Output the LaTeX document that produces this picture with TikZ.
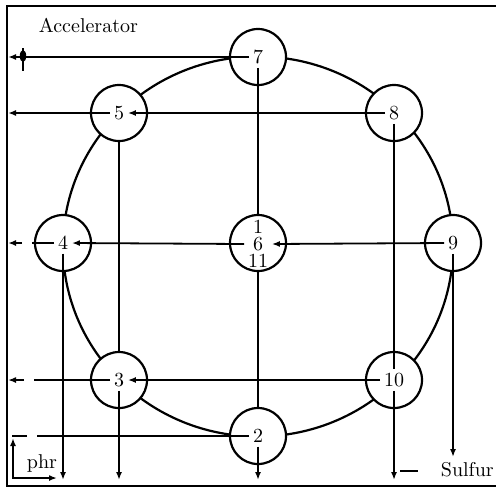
\documentclass[tikz,border=0pt]{standalone}
\usetikzlibrary{arrows.meta,positioning}

\begin{document}
\begin{tikzpicture}[x=0.5pt, y=-0.5pt, >={Latex[length=4pt,width=3pt]}, line width=0.9pt,
  station/.style={draw, circle, fill=white, minimum size=28pt, inner sep=0pt, line width=1.1pt},
  num/.style={inner sep=1.5pt, font=\normalsize},
  note/.style={inner sep=0pt, font=\normalsize}]
  \useasboundingbox (0,0) rectangle (496,488);
  % frame and ring
  \draw[line width=1.3pt] (496,6) -- (7,6) -- (7,486) -- (496,486);
  \draw[line width=1.1pt] (258,246.5) ellipse[x radius=97.5pt, y radius=95pt];
  % stations
  \foreach \n/\x/\y in {7/258/57, 5/119/113, 8/394/113, 4/63/243, 9/453/243,
                        3/119/380, 10/394/380, 2/258/436} {
    \node[station] (n\n) at (\x,\y) {};
    \node[num] (t\n) at (\x,\y) {\n};
  }
  \node[station] (n6) at (258,243) {};
  \node[num, align=center, font=\fontsize{10}{8.5}\selectfont] (t6) at (258,244) {1\\6\\11};
  % free ends
  \coordinate (w7) at (8,57);
  \coordinate (w5) at (8,113);
  \coordinate (w4) at (8,243);
  \coordinate (w3) at (8,380);
  \coordinate (w2) at (12,436);
  \foreach \n/\x in {4/63, 3/119, 2/258, 10/394} \coordinate (o\n) at (\x,480);
  \coordinate (o9) at (453,457);
  % streams to the left
  \draw[->] (t7.west) -- (w7);
  \draw[->] (t5.west) -- (w5);
  \draw[->, dash pattern=on 11pt off 5pt] (t4.west) -- (w4);
  \draw[->, dash pattern=on 38pt off 5pt] (t3.west) -- (w3);
  \draw[dash pattern=on 106pt off 5pt] (t2.west) -- (w2);
  \draw[->] (t8.west) -- (t5.east);
  \draw[->] (t9.west) -- (t6.east);
  \draw[->] (t6.west) -- (t4.east);
  \draw[->] (t10.west) -- (t3.east);
  % streams down
  \draw (t7.south) -- (t6.north);
  \draw (n6.south) -- (n2.north);
  \draw (n5.south) -- (n3.north);
  \draw (t8.south) -- (t10.north);
  \foreach \n in {4, 3, 2, 10, 9} \draw[->] (t\n.south) -- (o\n);
  \draw (400,471) -- (418,471);
  % valve on accelerator line
  \draw (23,48) -- (23,71);
  \fill (23,56) ellipse[x radius=1.6pt, y radius=3pt];
  % phr return
  \coordinate (p1) at (13,438);
  \coordinate (p2) at (57,478);
  \draw[<->] (p1) |- (p2);
  % texts
  \node[note, anchor=west] (acc) at (38,25) {Accelerator};
  \node[note] (phr) at (42,463) {phr};
  \node[note, anchor=west] (sulfur) at (440,470) {Sulfur};
\end{tikzpicture}
\end{document}
